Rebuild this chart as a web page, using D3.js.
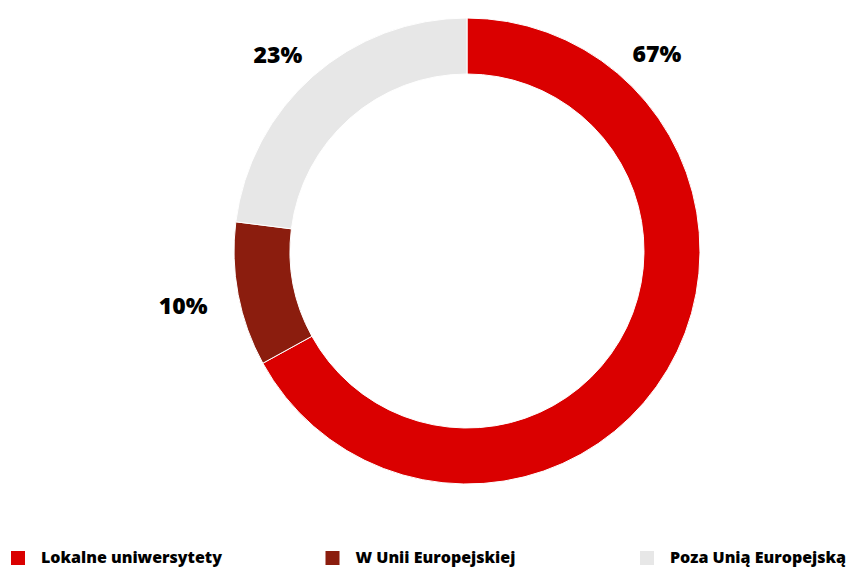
<!DOCTYPE html>
<html>
<head>
<meta charset="utf-8">
<script src="https://cdn.jsdelivr.net/npm/d3@7"></script>
<style>
  html, body { margin: 0; padding: 0; background: #fff; }
  svg { display: block; }
  text { font-family: "Open Sans", "Noto Sans", sans-serif; font-weight: 800; fill: #000; }
</style>
</head>
<body>
<svg id="chart" width="851" height="568"></svg>
<script>
// Share of graduates by destination
const categories = ["Lokalne uniwersytety", "W Unii Europejskiej", "Poza Unią Europejską"];
const values = [67, 10, 23];
const colors = ["#DA0000", "#8B1D0E", "#E7E7E7"];

const width = 851, height = 568;
const cx = 467, cy = 251;
const outerR = 233, innerR = 177;

const svg = d3.select("#chart");
const g = svg.append("g").attr("transform", `translate(${cx},${cy})`);

const pie = d3.pie().sort(null).value(d => d.value);
const arcs = pie(categories.map((c, i) => ({ name: c, value: values[i], color: colors[i] })));
const arc = d3.arc().innerRadius(innerR).outerRadius(outerR);

g.selectAll("path.slice")
  .data(arcs)
  .join("path")
  .attr("class", "slice")
  .attr("d", arc)
  .attr("fill", d => d.data.color)
  .attr("stroke", "#fff")
  .attr("stroke-width", 1);

// Percentage labels outside the ring; slices meeting at 12 o'clock get labels
// placed symmetrically in the upper corners, others follow their mid-angle.
const total = d3.sum(values);
const TAU = Math.PI * 2;
const cornerA = Math.PI / 4 - 0.02;
g.selectAll("text.pct")
  .data(arcs)
  .join("text")
  .attr("class", "pct")
  .attr("text-anchor", "middle")
  .attr("dominant-baseline", "central")
  .attr("font-size", 23)
  .each(function (d) {
    let a = (d.startAngle + d.endAngle) / 2;
    let r = 289;
    if (d.startAngle === 0) { a = cornerA; r = 274; }
    else if (Math.abs(d.endAngle - TAU) < 1e-6) { a = -cornerA; r = 273; }
    d3.select(this)
      .attr("x", Math.sin(a) * r)
      .attr("y", -Math.cos(a) * r);
  })
  .text(d => Math.round(d.data.value / total * 100) + "%");

// Legend
const legendX = d3.scalePoint().domain(categories).range([11, 640]);
const leg = svg.append("g").attr("transform", "translate(0,557)");
const items = leg.selectAll("g.item")
  .data(categories)
  .join("g")
  .attr("class", "item")
  .attr("transform", d => `translate(${legendX(d)},0)`);
items.append("rect")
  .attr("x", 0).attr("y", -6)
  .attr("width", 14).attr("height", 14)
  .attr("fill", (d, i) => colors[i]);
items.append("text")
  .attr("x", 30)
  .attr("y", 0)
  .attr("dominant-baseline", "central")
  .attr("font-size", 16)
  .text(d => d);
</script>
</body>
</html>
